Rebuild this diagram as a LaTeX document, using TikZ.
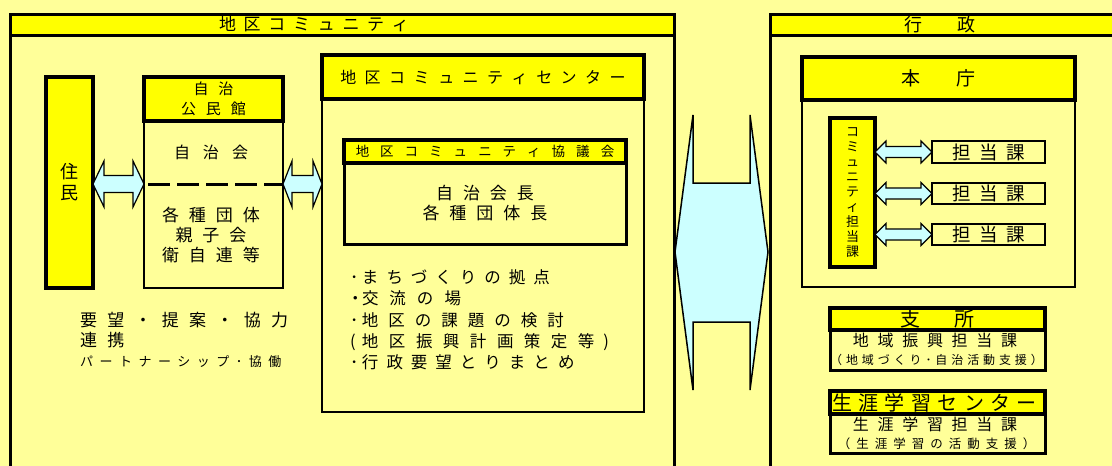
\documentclass[tikz,border=0pt]{standalone}
\usepackage{fontspec}
\usetikzlibrary{calc}
\newfontfamily\jp{Noto Sans CJK JP}
\definecolor{bg}{HTML}{FFFF99}
\definecolor{yel}{HTML}{FFFF00}
\definecolor{cyanl}{HTML}{CCFFFF}
\ExplSyntaxOn
\NewDocumentCommand\LS{mm}{\tl_map_inline:nn{#2}{##1\hskip #1pt\relax}\unskip}
\ExplSyntaxOff
\newcommand\sz[2]{\fontsize{#1}{#2}\selectfont}
\newcommand\dar[5]{\draw[arr] let \p1=(#1), \p2=(#2) in (\x1,\y1) -- (\x1+#3pt,\y1+#4pt) -- (\x1+#3pt,\y1+#5pt) -- (\x2-#3pt,\y1+#5pt) -- (\x2-#3pt,\y1+#4pt) -- (\x2,\y1) -- (\x2-#3pt,\y1-#4pt) -- (\x2-#3pt,\y1-#5pt) -- (\x1+#3pt,\y1-#5pt) -- (\x1+#3pt,\y1-#4pt) -- cycle;}
\tikzset{
 bx/.style={draw, inner sep=0pt, outer sep=0pt, line width=#1, align=center},
 yb/.style={bx=#1, fill=yel},
 wb/.style={bx=#1, fill=bg},
 txt/.style={inner sep=0pt, outer sep=0pt, align=center},
 arr/.style={draw, fill=cyanl, line width=1.2pt, line join=miter},
}
\begin{document}
\begin{tikzpicture}[x=1pt,y=-1pt]
\useasboundingbox (0,0) rectangle (1112,466);
\clip (0,0) rectangle (1112,466);
\fill[bg] (0,0) rectangle (1112,466);

% panels
\node[wb=3pt, minimum width=664pt, minimum height=486pt] (lp) at (342,257) {};
\node[yb=3pt, minimum width=664pt, minimum height=21pt] (lph) at (342,24.5) {};
\node[txt, font=\jp\sz{17}{17}] (lpt) at (314,24.5) {\LS{7.7}{地区コミュニティ}};
\node[wb=3pt, minimum width=370pt, minimum height=486pt] (rp) at (955,257) {};
\node[yb=3pt, minimum width=370pt, minimum height=21pt] (rph) at (955,24.5) {};
\node[txt, font=\jp\sz{18}{18}] (rpt) at (940,24.5) {\LS{35}{行政}};

% residents
\node[yb=4.5pt, minimum width=47pt, minimum height=211pt, font=\jp\sz{18}{21}] (jm) at (69.5,182.5) {住\\民};

% kominkan
\node[wb=2.5pt, minimum width=139pt, minimum height=167pt] (kb) at (213.5,204.5) {};
\node[yb=4pt, minimum width=139pt, minimum height=44pt, font=\jp\sz{15}{20}] (kh) at (213.5,99) {\LS{10}{自治}\\\LS{10}{公民館}};
\node[txt, font=\jp\sz{16}{16}] (jc) at (211,152) {\LS{13}{自治会}};
\node[txt, font=\jp\sz{17}{20}] (dt) at (211,235) {\LS{10}{各種団体}\\\LS{10}{親子会}\\\LS{10}{衛自連等}};
\coordinate (dl) at (0,184);
\draw[line width=3pt, dash pattern=on 22pt off 7pt] ([xshift=4pt]kb.west |- dl) -- (kb.east |- dl);

% left texts
\node[txt, anchor=west, align=left, font=\jp\sz{17}{20}] (yb1) at (80,330) {\LS{10.3}{要望・提案・協力}\\\LS{10.3}{連携}};
\node[txt, anchor=west, font=\jp\sz{13}{13}] (pt) at (80,362) {\LS{6.5}{パートナーシップ･協働}};

% center
\node[wb=2.5pt, minimum width=322pt, minimum height=313pt] (cb) at (483,255.5) {};
\node[yb=4pt, minimum width=322pt, minimum height=44pt, font=\jp\sz{16}{16}] (ch) at (483,77) {\LS{8.5}{地区コミュニティセンター}};
\node[wb=3pt, minimum width=282pt, minimum height=81pt, font=\jp\sz{17}{20}] (gb) at (485,203.5) {\LS{10}{自治会長}\\\LS{10}{各種団体長}};
\node[yb=3.5pt, minimum width=282pt, minimum height=23pt, font=\jp\sz{13.5}{13.5}] (gh) at (485,151.5) {\LS{11}{地区コミュニティ協議会}};
\node[txt, anchor=west, align=left, font=\jp\sz{16.5}{21.3}] (lst) at (350,320) {%
\makebox[12pt][l]{･}\LS{8}{まちづくりの拠点}\\
\makebox[12pt][l]{\hspace{-3pt}・}\LS{11}{交流の場}\\
\makebox[12pt][l]{･}\LS{10}{地区の課題の検討}\\
\makebox[12pt][l]{(}\LS{10.5}{地区振興計画策定等}\hspace{9pt})\\
\makebox[12pt][l]{･}\LS{8}{行政要望とりまとめ}};

% right
\node[wb=2.5pt, minimum width=273pt, minimum height=187pt] (hb) at (938.5,193.5) {};
\node[yb=4.5pt, minimum width=273pt, minimum height=43pt, font=\jp\sz{19}{19}] (hh) at (938.5,78.5) {\LS{36}{本庁}};
\node[yb=4.5pt, minimum width=45pt, minimum height=149pt, font=\jp\sz{13}{15}] (kt) at (852.5,192.5) {コ\\ミ\\ュ\\ニ\\テ\\ィ\\担\\当\\課};
\node[wb=2.5pt, minimum width=113pt, minimum height=22pt, font=\jp\sz{18.5}{18.5}] (t1) at (988.5,152) {\LS{8.5}{担当課}};
\node[wb=2.5pt, minimum width=113pt, minimum height=21pt, font=\jp\sz{18.5}{18.5}] (t2) at (988.5,193.5) {\LS{8.5}{担当課}};
\node[wb=2.5pt, minimum width=113pt, minimum height=21pt, font=\jp\sz{18.5}{18.5}] (t3) at (988.5,234.5) {\LS{8.5}{担当課}};
\dar{kt.east |- t1}{t1.west}{11}{11}{5.5}
\dar{kt.east |- t2}{t2.west}{11}{11}{5.5}
\dar{kt.east |- t3}{t3.west}{11}{11}{5.5}

% branch
\node[wb=3pt, minimum width=215pt, minimum height=40pt] (sb) at (937.5,350) {};
\node[yb=4pt, minimum width=215pt, minimum height=22pt, font=\jp\sz{20}{20}] (sh) at (937.5,319) {\LS{34}{支所}};
\node[txt, font=\jp\sz{16}{16}] (s1) at (935,340) {\LS{8.7}{地域振興担当課}};
\node[txt, font=\jp\sz{12}{12}] (s2) at (936.5,360) {\LS{3.9}{（地域づくり･自治活動支援）}};

% lifelong learning
\node[wb=3pt, minimum width=215pt, minimum height=39pt] (lb) at (937.5,433.5) {};
\node[yb=4pt, minimum width=215pt, minimum height=23pt, font=\jp\sz{20}{20}] (lh) at (937.5,402.5) {\LS{6.4}{生涯学習センター}\hspace{6pt}};
\node[txt, font=\jp\sz{16}{16}] (l1) at (935,424) {\LS{8.7}{生涯学習担当課}};
\node[txt, font=\jp\sz{12.5}{12.5}] (l2) at (936.5,444) {\LS{6}{（生涯学習の活動支援）}};

% arrows
\dar{jm.east |- dl}{kb.west |- dl}{11}{23}{8.5}
\dar{kb.east |- dl}{cb.west |- dl}{9}{23}{8.5}
\draw[arr, line width=1.5pt] (693,115) -- (675,252) -- (693,390) -- (693,322) -- (750,322) -- (750,390) -- (768,252) -- (750,115) -- (750,183) -- (693,183) -- cycle;
\end{tikzpicture}
\end{document}
